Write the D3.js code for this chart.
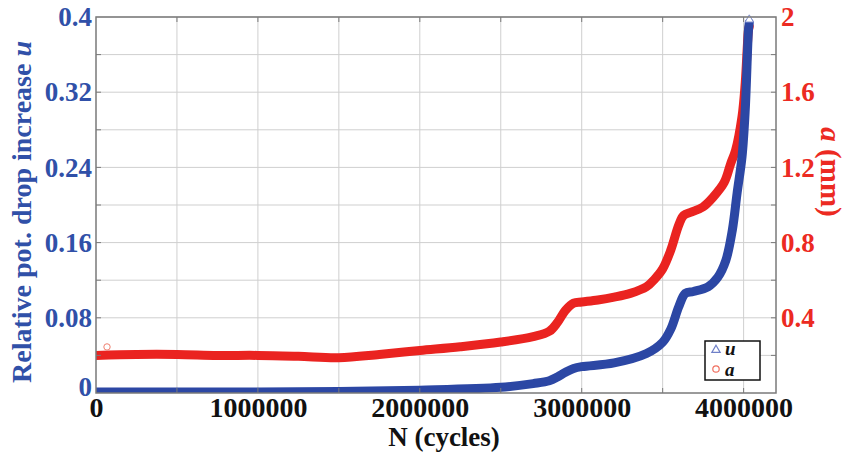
<!DOCTYPE html>
<html>
<head>
<meta charset="utf-8">
<script src="https://cdn.jsdelivr.net/npm/d3@7"></script>
<style>
  body { margin: 0; background: #fff; }
  text { font-family: "Liberation Serif", "Times New Roman", serif; font-weight: bold; }
</style>
</head>
<body>
<script>
// values (N in millions of cycles)
var uCycles = [0, 0.5, 1.0, 1.5, 2.0, 2.5, 2.7, 2.8, 2.85, 2.9, 2.95, 3.0, 3.2, 3.4, 3.5, 3.55, 3.6, 3.64, 3.69, 3.78, 3.84, 3.89, 3.93, 3.96, 3.99, 4.01, 4.03, 4.035]
var uVals = [0.001, 0.001, 0.001, 0.0015, 0.003, 0.006, 0.010, 0.013, 0.017, 0.022, 0.026, 0.028, 0.032, 0.042, 0.054, 0.068, 0.092, 0.106, 0.108, 0.113, 0.123, 0.141, 0.173, 0.213, 0.251, 0.301, 0.386, 0.394]

var aCycles = [0, 0.25, 0.5, 0.75, 1.0, 1.25, 1.5, 1.75, 2.0, 2.25, 2.5, 2.7, 2.8, 2.85, 2.9, 2.95, 3.0, 3.1, 3.2, 3.3, 3.4, 3.45, 3.5, 3.55, 3.6, 3.63, 3.68, 3.75, 3.81, 3.88, 3.92, 3.95, 3.99, 4.01, 4.03, 4.035]
var aVals = [0.200, 0.205, 0.205, 0.200, 0.200, 0.195, 0.188, 0.205, 0.226, 0.246, 0.271, 0.300, 0.328, 0.375, 0.440, 0.478, 0.484, 0.495, 0.510, 0.530, 0.565, 0.605, 0.660, 0.760, 0.895, 0.945, 0.963, 0.990, 1.040, 1.120, 1.220, 1.290, 1.470, 1.650, 1.930, 1.950]

// stray marker near the start
var aStrayCycles = [0.068]
var aStrayVals = [0.245]

var xGridTicks = [0.5, 1.0, 1.5, 2.0, 2.5, 3.0, 3.5, 4.0]
var xLabelTicks = [0, 1, 2, 3, 4]
var uTicks = [0.04, 0.08, 0.12, 0.16, 0.2, 0.24, 0.28, 0.32, 0.36]
var uLabelTicks = [0, 0.08, 0.16, 0.24, 0.32, 0.4]
var aLabelTicks = [0.4, 0.8, 1.2, 1.6, 2]

window.onload = function() {
  var width = 855
  var height = 453
  var pad = {left: 96, right: 80, top: 17, bottom: 60}

  var blue = "#2c47a4"
  var red = "#ea2320"
  var blueText = "#3050a8"
  var redText = "#ec2a22"

  var svg = d3.select("body").append("svg")
              .attr("width", width)
              .attr("height", height)

  var xScale = d3.scaleLinear().domain([0, 4.2]).range([pad.left, width - pad.right + 1])
  var uScale = d3.scaleLinear().domain([0, 0.4]).range([height - pad.bottom, pad.top])
  var aScale = d3.scaleLinear().domain([0, 2]).range([height - pad.bottom, pad.top])

  var x0 = xScale.range()[0], x1 = xScale.range()[1]
  var y0 = uScale.range()[0], y1 = uScale.range()[1]

  // grid lines
  var grid = svg.append("g").attr("stroke", "#cfcfcf").attr("stroke-width", 1)
  grid.selectAll(".gx").data(xGridTicks).enter().append("line")
      .attr("x1", function(d){ return xScale(d) }).attr("x2", function(d){ return xScale(d) })
      .attr("y1", y1).attr("y2", y0)
  grid.selectAll(".gy").data(uTicks.concat([0.4])).enter().append("line")
      .attr("y1", function(d){ return uScale(d) }).attr("y2", function(d){ return uScale(d) })
      .attr("x1", x0).attr("x2", x1)

  // clip the data to the axes box
  svg.append("clipPath").attr("id", "box").append("rect")
     .attr("x", x0).attr("y", y1 - 6).attr("width", x1 - x0).attr("height", y0 - y1 + 6)

  var plot = svg.append("g").attr("clip-path", "url(#box)")

  var aData = aCycles.map(function(n, i){ return [n, aVals[i]] })
  var uData = uCycles.map(function(n, i){ return [n, uVals[i]] })

  var aLine = d3.line().curve(d3.curveCatmullRom.alpha(0.5))
                .x(function(d){ return xScale(d[0]) })
                .y(function(d){ return aScale(d[1]) })
  var uLine = d3.line().curve(d3.curveCatmullRom.alpha(0.5))
                .x(function(d){ return xScale(d[0]) })
                .y(function(d){ return uScale(d[1]) })

  plot.append("path").datum(aData).attr("d", aLine)
      .attr("fill", "none").attr("stroke", red).attr("stroke-width", 9)
      .attr("stroke-linejoin", "round").attr("stroke-linecap", "round")
  plot.append("path").datum(uData).attr("d", uLine)
      .attr("fill", "none").attr("stroke", blue).attr("stroke-width", 9)
      .attr("stroke-linejoin", "round").attr("stroke-linecap", "round")

  // marker at the top end of u
  var tri = d3.symbol().type(d3.symbolTriangle).size(30)
  plot.append("path").attr("d", tri)
      .attr("transform", "translate(" + xScale(uCycles[uCycles.length-1]) + "," + (uScale(uVals[uVals.length-1]) - 3) + ")")
      .attr("fill", "#fff").attr("stroke", "#7f8fd0").attr("stroke-width", 1)

  plot.selectAll(".stray").data(aStrayCycles).enter().append("circle")
      .attr("cx", function(d){ return xScale(d) })
      .attr("cy", function(d, i){ return aScale(aStrayVals[i]) })
      .attr("r", 3.2).attr("fill", "none").attr("stroke", "#f08070").attr("stroke-width", 1)

  // axes box
  svg.append("rect").attr("x", x0).attr("y", y1).attr("width", x1 - x0).attr("height", y0 - y1)
     .attr("fill", "none").attr("stroke", "#7a7a7a").attr("stroke-width", 1.5)

  var xAxis = d3.axisBottom(xScale).tickValues(xLabelTicks)
                .tickSize(0).tickPadding(2)
                .tickFormat(function(d){ return d === 0 ? "0" : d3.format("d")(d * 1e6) })
  var gx = svg.append("g").attr("transform", "translate(0," + y0 + ")").call(xAxis)
  gx.select(".domain").remove()
  gx.selectAll("text").attr("fill", "#111").style("font-size", "28px").attr("dy", "0.78em")

  // inner ticks on all four sides
  var ticks = svg.append("g").attr("stroke", "#7a7a7a").attr("stroke-width", 1)
  ticks.selectAll(".tb").data(xGridTicks).enter().append("line")
       .attr("x1", function(d){ return xScale(d) }).attr("x2", function(d){ return xScale(d) })
       .attr("y1", y0).attr("y2", y0 - 5)
  ticks.selectAll(".tt").data(xGridTicks).enter().append("line")
       .attr("x1", function(d){ return xScale(d) }).attr("x2", function(d){ return xScale(d) })
       .attr("y1", y1).attr("y2", y1 + 5)
  ticks.selectAll(".tl").data(uTicks).enter().append("line")
       .attr("y1", function(d){ return uScale(d) }).attr("y2", function(d){ return uScale(d) })
       .attr("x1", x0).attr("x2", x0 + 5)
  ticks.selectAll(".tr").data(uTicks).enter().append("line")
       .attr("y1", function(d){ return uScale(d) }).attr("y2", function(d){ return uScale(d) })
       .attr("x1", x1).attr("x2", x1 - 5)

  var uAxis = d3.axisLeft(uScale).tickValues(uLabelTicks).tickSize(0).tickPadding(4)
                .tickFormat(function(d){ return String(+d.toFixed(2)) })
  var gu = svg.append("g").attr("transform", "translate(" + x0 + ",0)").call(uAxis)
  gu.select(".domain").remove()
  gu.selectAll("text").attr("fill", blueText).style("font-size", "27px")
  // the zero label sits a little higher so it clears the x-axis zero
  gu.selectAll(".tick").filter(function(d){ return d === 0 }).select("text").attr("dy", "0.1em")

  var aAxis = d3.axisRight(aScale).tickValues(aLabelTicks).tickSize(0).tickPadding(5)
                .tickFormat(function(d){ return String(+d.toFixed(1)) })
  var ga = svg.append("g").attr("transform", "translate(" + x1 + ",0)").call(aAxis)
  ga.select(".domain").remove()
  ga.selectAll("text").attr("fill", redText).style("font-size", "27px")

  // axis titles
  svg.append("text")
     .attr("transform", "translate(444,446)")
     .style("text-anchor", "middle").style("font-size", "27px").attr("fill", "#111")
     .text("N (cycles)")

  var leftTitle = svg.append("text")
     .attr("transform", "translate(31,212) rotate(-90)")
     .style("text-anchor", "middle").style("font-size", "28px").attr("fill", blueText)
  leftTitle.append("tspan").text("Relative pot. drop increase ")
  leftTitle.append("tspan").style("font-style", "italic").text("u")

  var rightTitle = svg.append("text")
     .attr("transform", "translate(821,172) rotate(90)")
     .style("text-anchor", "middle").style("font-size", "29px").attr("fill", redText)
  rightTitle.append("tspan").style("font-style", "italic").text("a")
  rightTitle.append("tspan").text(" (mm)")

  // legend
  var leg = svg.append("g")
  leg.append("rect").attr("x", 705).attr("y", 341).attr("width", 55).attr("height", 39)
     .attr("fill", "#fff").attr("stroke", "#111").attr("stroke-width", 1.5)
  leg.append("path").attr("d", tri).attr("transform", "translate(716,350)")
     .attr("fill", "none").attr("stroke", "#6f80c8").attr("stroke-width", 1.2)
  leg.append("circle").attr("cx", 716).attr("cy", 369).attr("r", 3.2)
     .attr("fill", "none").attr("stroke", "#f07060").attr("stroke-width", 1.2)
  leg.append("text").attr("x", 725).attr("y", 355).style("font-size", "19px")
     .style("font-style", "italic").attr("fill", "#111").text("u")
  leg.append("text").attr("x", 725).attr("y", 376).style("font-size", "19px")
     .style("font-style", "italic").attr("fill", "#111").text("a")
}
</script>
</body>
</html>
